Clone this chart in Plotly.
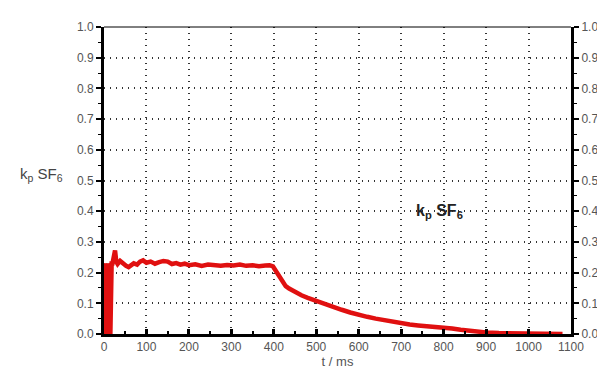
import plotly.graph_objects as go

# time (ms) and k_p SF6 values
t_ms = [0, 2, 3, 4, 5, 6, 7, 8, 9, 10, 11, 12, 13, 14, 15, 16, 17, 18, 20, 23, 26, 29, 32,
        38, 45, 52, 58, 64, 70, 78, 85, 92, 100, 110, 120, 130, 140, 150, 160, 170, 180,
        190, 200, 215, 230, 245, 260, 275, 290, 305, 320, 335, 350, 365, 380, 390, 398,
        405, 412, 420, 428, 436, 445, 455, 465, 480, 495, 510, 525, 540, 560, 580, 600,
        620, 640, 660, 680, 700, 720, 740, 760, 780, 800, 820, 840, 860, 880, 900, 930,
        960, 1000, 1030, 1050, 1065, 1080]
kp_sf6 = [0.0, 0.23, 0.0, 0.22, 0.01, 0.23, 0.0, 0.22, 0.02, 0.23, 0.0, 0.21, 0.03, 0.23, 0.0, 0.2, 0.05, 0.23, 0.23, 0.25, 0.272, 0.235, 0.228,
          0.238, 0.228, 0.222, 0.218, 0.225, 0.23, 0.226, 0.236, 0.24, 0.232, 0.236, 0.229, 0.234, 0.238, 0.236, 0.228, 0.231, 0.226,
          0.229, 0.224, 0.227, 0.222, 0.226, 0.224, 0.222, 0.225, 0.223, 0.226, 0.222, 0.224, 0.221, 0.223, 0.224, 0.22,
          0.205, 0.188, 0.168, 0.156, 0.148, 0.14, 0.134, 0.126, 0.118, 0.11, 0.102, 0.095, 0.088, 0.079, 0.07, 0.062,
          0.056, 0.05, 0.045, 0.039, 0.034, 0.031, 0.028, 0.026, 0.024, 0.022, 0.018, 0.014, 0.01, 0.007, 0.005, 0.003,
          0.002, 0.001, 0.0, 0.001, -0.002, 0.0]

x_ticks = [0, 100, 200, 300, 400, 500, 600, 700, 800, 900, 1000, 1100]
y_ticks = [0.0, 0.1, 0.2, 0.3, 0.4, 0.5, 0.6, 0.7, 0.8, 0.9, 1.0]
y_tick_text = [f"{v:.1f}" for v in y_ticks]

fig = go.Figure()
fig.add_trace(go.Scatter(x=t_ms, y=kp_sf6, mode="lines",
                         line=dict(color="#e01010", width=4.5), showlegend=False))
# invisible trace to activate right axis
fig.add_trace(go.Scatter(x=[0], y=[0], yaxis="y2", mode="markers",
                         marker=dict(opacity=0), showlegend=False, hoverinfo="skip"))

FONT = "Liberation Sans, Arial, sans-serif"
tickfont = dict(family=FONT, size=12, color="#555")
grid_dash = "1px,5px"

fig.update_layout(
    width=605, height=376,
    margin=dict(l=96, r=42, t=16, b=50),
    paper_bgcolor="white", plot_bgcolor="white",
    xaxis=dict(range=[0, 1100], tickvals=x_ticks, ticktext=[str(v) for v in x_ticks],
               showline=True, linewidth=3, linecolor="black",
               ticks="inside", ticklen=5, tickwidth=3, tickcolor="black",
               minor=dict(ticks="inside", ticklen=3, tickwidth=2, dtick=50, tickcolor="black"),
               showgrid=True, gridcolor="#333", griddash=grid_dash, gridwidth=1.5,
               zeroline=False, tickfont=tickfont,
               title=dict(text="t / ms", font=dict(family=FONT, size=13, color="#555"), standoff=4)),
    yaxis=dict(range=[0, 1.0], tickvals=y_ticks, ticktext=y_tick_text,
               showline=True, linewidth=3, linecolor="black",
               ticks="outside", ticklen=5, tickwidth=2, tickcolor="black",
               minor=dict(ticks="outside", ticklen=3, tickwidth=1, dtick=0.05, tickcolor="black"),
               showgrid=True, gridcolor="#333", griddash=grid_dash, gridwidth=1.5,
               zeroline=False, tickfont=tickfont),
    yaxis2=dict(range=[0, 1.0], tickvals=y_ticks, ticktext=y_tick_text, overlaying="y", side="right",
                showline=True, linewidth=3, linecolor="black",
                ticks="outside", ticklen=5, tickwidth=2, tickcolor="black",
                minor=dict(ticks="outside", ticklen=3, tickwidth=1, dtick=0.05, tickcolor="black"),
                showgrid=False, zeroline=False, tickfont=tickfont),
    shapes=[dict(type="line", xref="paper", yref="paper", x0=0, x1=1, y0=1, y1=1,
                 line=dict(color="black", width=1))],
    annotations=[
        dict(text="k<sub>p</sub> SF<sub>6</sub>", xref="paper", yref="paper", x=-0.185, y=0.52,
             xanchor="left", yanchor="middle", showarrow=False,
             font=dict(family=FONT, size=15, color="#444")),
        dict(text="<b>k<sub>p</sub> SF<sub>6</sub></b>", xref="x", yref="y", x=790, y=0.40,
             xanchor="center", yanchor="middle", showarrow=False,
             font=dict(family=FONT, size=16, color="#222")),
    ],
)

fig.write_html("out.html")
